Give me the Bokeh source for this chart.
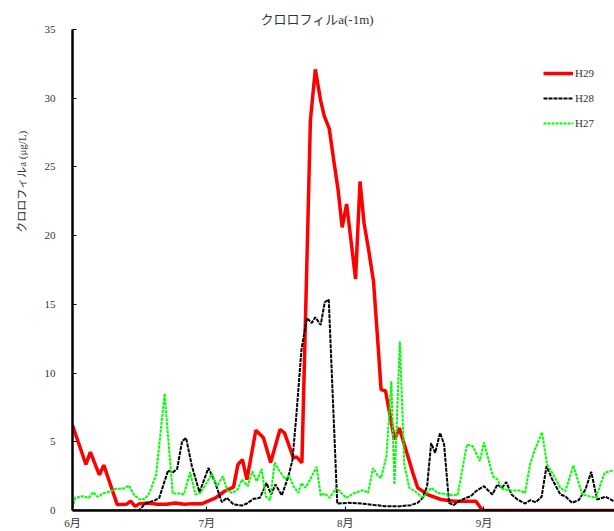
from bokeh.plotting import figure
from bokeh.models import Range1d, Title, Legend, LegendItem, FixedTicker, SingleIntervalTicker
from bokeh.embed import file_html
from bokeh.resources import INLINE

# x = days since June 1
month_ticks = [0, 30, 61, 92]
month_labels = ["6月", "7月", "8月", "9月"]

h29_day = [0, 3, 4, 6, 7, 10, 12, 13, 14, 15, 17, 19, 21, 23, 25, 27, 29, 32, 34, 36, 37, 38, 39,
           41, 42.7, 44.3, 46.4, 47.4, 49.4, 50.1, 51.3, 53.2, 54.3, 55.5, 56.3, 57.4, 58.5, 59.4,
           60.3, 61.3, 63.3, 64.3, 65.2, 66.2, 67.3, 68.4, 69, 70, 72, 73.1, 74.2, 76.1, 77.2,
           79.4, 82.4, 85.4, 90.2, 91.7, 121.2]
h29_val = [6.2, 3.35, 4.25, 2.6, 3.3, 0.43, 0.45, 0.68, 0.3, 0.5, 0.55, 0.45, 0.45, 0.55, 0.45,
           0.5, 0.5, 0.92, 1.4, 1.7, 3.35, 3.7, 2.25,
           5.84, 5.3, 3.5, 5.9, 5.65, 3.83, 3.9, 3.47, 28.4, 32.1, 29.8, 28.7, 27.8, 25.3, 23.3,
           20.6, 22.3, 16.85, 23.95, 20.9, 19.0, 16.7, 11.7, 8.8, 8.7, 5.16, 6.0, 4.8, 2.74, 1.65,
           1.16, 0.8, 0.68, 0.68, 0.0, 0.0]

h28_day = [0, 14.8, 16.3, 17.8, 18.5, 19.4, 20, 21.4, 22.3, 23.4, 24.5, 25.4, 26.7, 28.4, 30.4,
           31.8, 33.4, 34.5, 36, 37.9, 39, 40.5, 41.9, 43.4, 44.4, 45.4, 46.8, 48.3, 49.2, 50.1,
           51.2, 52.4, 53.5, 54.3, 55.5, 56.4, 57.3, 59.2, 61.6, 64.6, 67.5, 70, 73, 75.7, 77.2,
           78.3, 79.3, 80.2, 81.1, 82.2, 83.1, 84.2, 85.2, 86.5, 88, 89.1, 90.2, 92, 93.9, 95, 96,
           97, 98.2, 99.5, 101.2, 102.4, 103.6, 104.9, 106, 107.3, 109.1, 110.2, 111.7, 113.2,
           114.7, 116, 117.3, 119.2, 121]
h28_val = [0.0, 0.0, 0.5, 0.68, 0.75, 0.92, 1.53, 2.93, 2.74, 3.03, 5.04, 5.28, 3.22, 1.33, 3.1,
           2.13, 0.6, 0.92, 0.44, 0.36, 0.51, 0.85, 0.92, 2.0, 1.16, 1.89, 1.1, 2.5, 3.7, 7.1,
           11.7, 14.0, 13.65, 14.06, 13.5, 15.15, 15.35, 0.5, 0.56, 0.51, 0.4, 0.31, 0.3, 0.39, 0.56,
           0.92, 1.77, 4.9, 4.2, 5.65, 4.8, 0.56, 0.39, 0.68, 0.92, 1.04, 1.4, 1.77, 1.16, 1.89, 1.65,
           2.06, 1.16, 0.8, 0.51, 0.75, 0.6, 1.0, 3.22, 2.25, 1.16, 1.04, 0.56, 0.75,
           1.53, 2.82, 0.8, 1.0, 0.68]

h27_day = [0, 0.6, 2.2, 3.6, 4.6, 5.6, 7.1, 8.2, 9.6, 11.5, 12.6, 13.7, 15, 16.2, 17.2, 18.7, 20.6,
           22.4, 24.1, 24.9, 26.3, 27.5, 28.6, 29.7, 31.2, 32.3, 33.6, 34.7, 35.8, 36.9, 37.9, 39.2,
           40.2, 41.2, 42.3, 43.2, 44.2, 45.2, 46.2, 47.5, 48.4, 49.4, 50.5, 51.2, 52.1, 53.5, 54.6,
           55.5, 56.4, 57.5, 59, 60.1, 61.2, 63.1, 65, 66.1, 67.2, 68.3, 69, 70.2, 71.3, 72, 73.2,
           74.2, 75.3, 76.6, 78.3, 80.2, 81.7, 83.9, 86.1, 88.2, 89.5, 91.1, 92, 94, 95, 96.1, 98,
           100, 101.2, 102.3, 103.4, 105, 106.1, 107.3, 109.1, 110.2, 112, 114, 117, 119, 121]
h27_val = [0.2, 0.92, 1.04, 0.92, 1.33, 1.0, 1.28, 1.36, 1.58, 1.6, 1.82, 1.16, 0.8, 0.85, 1.28, 2.6,
           8.5, 1.24, 1.24, 1.16, 2.79, 1.16, 1.28, 1.85, 2.7, 1.77, 2.5, 1.4, 1.28, 1.53, 2.25, 1.77,
           2.86, 2.13, 3.03, 1.04, 0.75, 3.5, 2.93, 2.3, 2.55, 1.77, 1.28, 2.0, 1.65, 2.5, 3.18,
           1.09, 1.24, 0.92, 1.65, 1.28, 0.92, 1.28, 1.48, 1.28, 3.1, 2.5, 2.38, 3.95, 9.4, 1.89, 12.3,
           3.35, 1.65, 1.4, 0.92, 1.65, 1.28, 1.16, 1.11, 4.8, 4.68, 3.59, 4.97, 2.5, 2.25, 1.58, 1.45,
           1.45, 1.28, 3.35, 4.44, 5.7, 3.35, 2.74, 1.65, 1.4, 3.27, 1.16, 0.92, 2.74, 2.93]

series_names = ["H29", "H28", "H27"]

FONT = "'Liberation Serif', 'Noto Sans CJK JP', serif"
TXT = "#333333"

p = figure(width=614, height=531, x_range=Range1d(0, 121.2), y_range=Range1d(0, 35),
           output_backend="svg", toolbar_location=None,
           min_border_left=70, min_border_right=0, min_border_top=29, min_border_bottom=20)
p.outline_line_color = None
p.xgrid.visible = False
p.ygrid.visible = False

p.title.text = "クロロフィルa(-1m)"
p.title.align = "left"
p.title.offset = 188
p.title.text_font = FONT
p.title.text_font_size = "13px"
p.title.text_font_style = "normal"
p.title.text_color = TXT
p.title.standoff = 5

ylab = Title(text="クロロフィルa (μg/L)", align="right", offset=101, text_font=FONT,
             text_font_size="11px", text_font_style="normal", text_color=TXT, standoff=27)
p.add_layout(ylab, "left")

for ax in (p.xaxis[0], p.yaxis[0]):
    ax.axis_line_width = 2.5
    ax.axis_line_color = "black"
    ax.major_tick_in = 4
    ax.major_tick_out = 0
    ax.minor_tick_line_color = None
    ax.major_tick_line_color = "black"
    ax.major_label_text_font = FONT
    ax.major_label_text_font_size = "11px"
    ax.major_label_text_color = TXT

p.xaxis.ticker = FixedTicker(ticks=month_ticks)
p.xaxis.major_label_overrides = {t: l for t, l in zip(month_ticks, month_labels)}
p.xaxis.major_label_standoff = 6
p.yaxis.ticker = SingleIntervalTicker(interval=5)
p.yaxis.major_label_standoff = 13

r29 = p.line(h29_day, h29_val, line_color="#FF0000", line_width=3.5)
r28 = p.line(h28_day, h28_val, line_color="black", line_width=2, line_dash="4 1")
r27 = p.line(h27_day, h27_val, line_color="#00FF00", line_width=2, line_dash="3 1")

legend = Legend(items=[LegendItem(label=series_names[0], renderers=[r29]),
                       LegendItem(label=series_names[1], renderers=[r28]),
                       LegendItem(label=series_names[2], renderers=[r27])],
                location=(471, 377), border_line_color=None, background_fill_alpha=0,
                padding=0, margin=0, spacing=5, glyph_width=30, glyph_height=20,
                label_height=20, label_standoff=2, label_text_font=FONT,
                label_text_font_size="11px", label_text_color=TXT)
p.add_layout(legend)

open("out.html", "w").write(file_html(p, INLINE))
